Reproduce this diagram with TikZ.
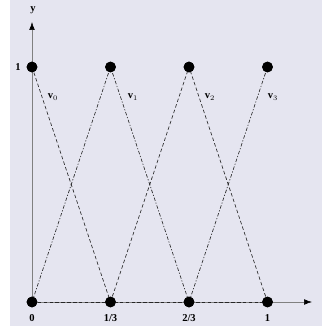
\documentclass[tikz,border=0pt]{standalone}
\usepackage{fontspec}
\setmainfont{Liberation Serif}
\usetikzlibrary{positioning, arrows.meta}
\definecolor{PanelGrey}{RGB}{229,229,240}

\begin{document}
\begin{tikzpicture}[x=7.065cm, y=7.05cm,
  dot/.style={circle, fill=black, inner sep=0pt, minimum size=3.2mm},
  axis/.style={draw=gray, line width=0.5pt, -{Latex[black, length=2.4mm, width=1.7mm]}},
  hat/.style={draw=black!85, line width=0.55pt, dash pattern=on 3pt off 2pt},
  hatdot/.style={draw=black!85, line width=0.55pt, dash pattern=on 3pt off 1.5pt on 1pt off 1.5pt},
  lbl/.style={font=\bfseries\small, inner sep=1pt}]
  % panel and margins
  \useasboundingbox (-0.96cm,-0.81cm) rectangle (8.7cm,9.06cm);
  \fill[PanelGrey] (-0.66cm,-0.72cm) rectangle (8.7cm,9.06cm);

  % axes
  \coordinate (O) at (0,0);
  \coordinate (xend) at (8.4cm,0);
  \coordinate (yend) at (0,8.4cm);
  \draw[axis] (O) -- (xend);
  \draw[axis] (O) -- (yend);
  \node[lbl] (ylab) at (0.03cm,8.76cm) {y};

  % nodes of the hat functions
  \foreach \i/\t in {0/0, 1/1\slash 3, 2/2\slash 3, 3/1} {
    \node[dot] (b\i) at (\i/3,0) {};
    \node[dot] (t\i) at (\i/3,1) {};
    \node[lbl] (x\i) at (\i/3,-0.48cm) {\t};
  }
  \node[lbl] (one) at (-0.42cm,1) {1};

  % basis functions
  \draw[hat] (t0.center) -- (b1.center);
  \draw[hatdot] (b0.center) -- (t1.center) -- (b2.center);
  \draw[hat] (b1.center) -- (t2.center) -- (b3.center);
  \draw[hatdot] (b2.center) -- (t3.center);
  \draw[hat] (b0.center) -- (b3.center);
  \foreach \i in {0,...,3} {
    \node[dot] at (b\i) {};
    \node[dot] at (t\i) {};
  }

  \node[lbl] (v0) at (0.63cm,6.15cm) {$\mathbf{v}_0$};
  \node[lbl] (v1) at (3.03cm,6.15cm) {$\mathbf{v}_1$};
  \node[lbl] (v2) at (5.34cm,6.15cm) {$\mathbf{v}_2$};
  \node[lbl] (v3) at (7.23cm,6.15cm) {$\mathbf{v}_3$};
\end{tikzpicture}
\end{document}
